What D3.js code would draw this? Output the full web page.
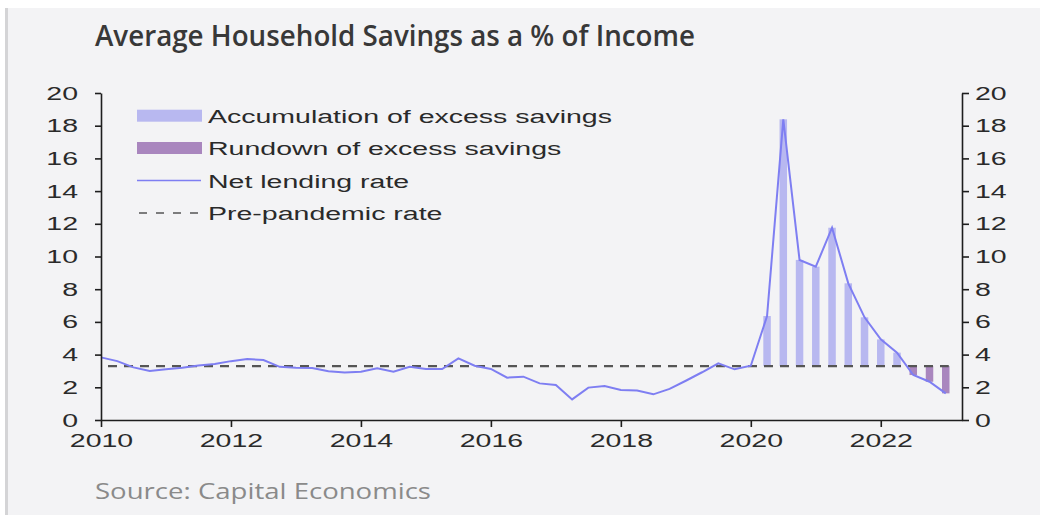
<!DOCTYPE html>
<html>
<head>
<meta charset="utf-8">
<script src="https://cdn.jsdelivr.net/npm/d3@7"></script>
<style>
body { margin: 0; background: #fff; }
svg { display: block; }
</style>
</head>
<body>
<svg width="1040" height="515"></svg>
<script>
// quarterly data, plotted at end of quarter (2009Q4 .. 2022Q4)
var startYear = 2010;
var netLending = [3.83, 3.6, 3.22, 3.0, 3.1, 3.2, 3.33, 3.42, 3.6, 3.73, 3.67, 3.25,
  3.2, 3.18, 2.98, 2.9, 2.95, 3.16, 2.95, 3.26, 3.12, 3.12, 3.77, 3.32,
  3.12, 2.59, 2.65, 2.24, 2.14, 1.26, 1.98, 2.08, 1.83, 1.8, 1.57, 1.9,
  2.4, 2.92, 3.47, 3.1, 3.32, 6.36, 18.39, 9.79, 9.38, 11.76, 8.36, 6.28,
  4.93, 4.12, 2.75, 2.34, 1.63];
var prePandemicRate = 3.3;
var excessFrom = 2020.25; // first quarter shown as excess savings
var yTicks = [0, 2, 4, 6, 8, 10, 12, 14, 16, 18, 20];
var xTicks = [2010, 2012, 2014, 2016, 2018, 2020, 2022];
var legendLabels = ["Accumulation of excess savings", "Rundown of excess savings", "Net lending rate", "Pre-pandemic rate"];

var svg = d3.select("svg");

// card
svg.append("rect").attr("x", 8).attr("y", 8).attr("width", 1040).attr("height", 515).attr("fill", "#f3f3f5");
svg.append("rect").attr("x", 5).attr("y", 8).attr("width", 3).attr("height", 515).attr("fill", "#d4d4d6");

svg.append("text")
    .attr("x", 95).attr("y", 46)
    .attr("textLength", 600).attr("lengthAdjust", "spacingAndGlyphs")
    .style("font-family", "'Open Sans', sans-serif").style("font-size", "28px").style("font-weight", 600)
    .attr("fill", "#383838")
    .text("Average Household Savings as a % of Income");

svg.append("text")
    .attr("x", 95).attr("y", 499)
    .attr("textLength", 336).attr("lengthAdjust", "spacingAndGlyphs")
    .style("font-family", "'Open Sans', sans-serif").style("font-size", "21px")
    .attr("fill", "#8a8a8a")
    .text("Source: Capital Economics");

var data = netLending.map(function(v, i) { return {date: startYear + i * 0.25, value: v}; });

var x = d3.scaleLinear().domain([2010, 2023.25]).range([101, 962]);
var y = d3.scaleLinear().domain([0, 20]).range([420, 93]);

var font = "'Liberation Sans', Arial, sans-serif";
var sx = 1.5;

// bars of excess savings
var bars = data.filter(function(d) { return d.date >= excessFrom; });
svg.append("g").selectAll("rect")
    .data(bars)
    .enter().append("rect")
    .attr("x", function(d) { return x(d.date) - 3.75; })
    .attr("width", 7.5)
    .attr("y", function(d) { return y(Math.max(d.value, prePandemicRate)); })
    .attr("height", function(d) { return Math.abs(y(d.value) - y(prePandemicRate)); })
    .attr("fill", function(d) { return d.value >= prePandemicRate ? "#b8b8f0" : "#a986be"; });

// pre-pandemic dashed line
svg.append("line")
    .attr("x1", x(2010) + 7).attr("x2", x(2023) + 3)
    .attr("y1", y(prePandemicRate)).attr("y2", y(prePandemicRate))
    .attr("stroke", "#555").attr("stroke-width", 2.2).attr("stroke-dasharray", "9,7");

// net lending line
svg.append("path")
    .datum(data)
    .attr("fill", "none")
    .attr("stroke", "#7e7ef2")
    .attr("stroke-width", 2)
    .attr("d", d3.line().x(function(d) { return x(d.date); }).y(function(d) { return y(d.value); }));

// axes
function styleAxis(g) {
  g.selectAll("path, line").attr("stroke", "#1e1e1e").attr("stroke-width", 1.6);
  g.selectAll("text").style("font-family", font).style("font-size", "19px").attr("fill", "#2a2a2a");
}

var gl = svg.append("g").attr("transform", "translate(101,0)")
    .call(d3.axisLeft(y).tickValues(yTicks).tickSize(6).tickSizeOuter(0));
styleAxis(gl);
gl.selectAll("text").attr("x", -23 / sx).attr("transform", "scale(" + sx + ",1)");

var gr = svg.append("g").attr("transform", "translate(962,0)")
    .call(d3.axisRight(y).tickValues(yTicks).tickSize(7).tickSizeOuter(0));
styleAxis(gr);
gr.selectAll("text").attr("x", 13 / sx).attr("transform", "scale(" + sx + ",1)");

var gx = svg.append("g").attr("transform", "translate(0,420)")
    .call(d3.axisBottom(x).tickValues(xTicks).tickFormat(d3.format("d")).tickSize(7).tickSizeOuter(0));
styleAxis(gx);
gx.selectAll("text").attr("y", 14).attr("transform", "scale(" + sx + ",1)");

// legend
var legendY = [115.7, 148, 180.5, 213];
var lg = svg.append("g");
legendLabels.forEach(function(label, i) {
  var cy = legendY[i];
  if (i < 2) {
    lg.append("rect").attr("x", 137).attr("y", cy - 6).attr("width", 65).attr("height", 12)
      .attr("fill", i == 0 ? "#b8b8f0" : "#a986be");
  } else if (i == 2) {
    lg.append("line").attr("x1", 137).attr("x2", 201).attr("y1", cy).attr("y2", cy)
      .attr("stroke", "#7e7ef2").attr("stroke-width", 1.5);
  } else {
    lg.append("line").attr("x1", 139).attr("x2", 198).attr("y1", cy).attr("y2", cy)
      .attr("stroke", "#555").attr("stroke-width", 1.5).attr("stroke-dasharray", "8,9");
  }
  lg.append("text")
    .attr("transform", "translate(208," + (cy + 7) + ") scale(" + sx + ",1)")
    .style("font-family", font).style("font-size", "19px").attr("fill", "#2a2a2a")
    .text(label);
});
</script>
</body>
</html>
